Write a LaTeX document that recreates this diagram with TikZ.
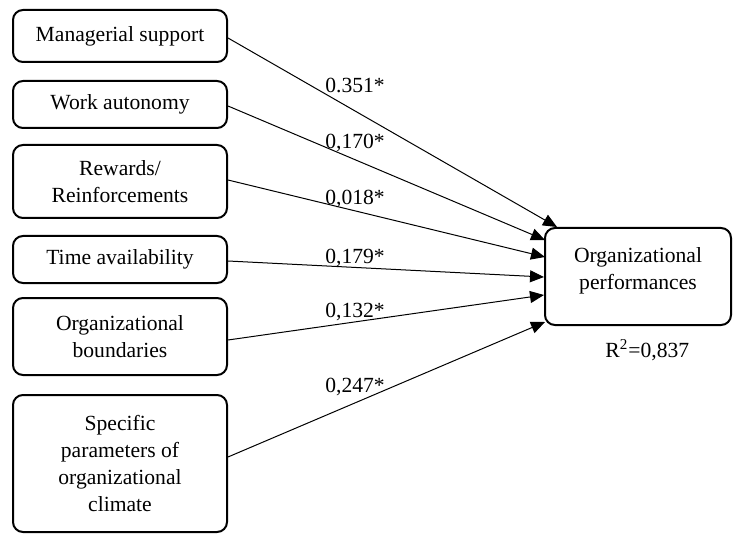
\documentclass[tikz,border=0pt]{standalone}
\usepackage{fontspec}
\setmainfont{Liberation Serif}
\usetikzlibrary{arrows.meta}
\begin{document}
\begin{tikzpicture}[x=0.5pt,y=-0.5pt,
  box/.style={draw,line width=1pt,rounded corners=5pt,align=center,inner sep=1pt,font=\fontsize{10.8}{13.5}\selectfont},
  conn/.style={line width=0.5pt,-{Triangle[length=7pt,width=6pt]}},
  coef/.style={font=\fontsize{10.8}{13}\selectfont,inner sep=0pt}]
\useasboundingbox (0,0) rectangle (733,534);
\node[box,minimum width=107pt,minimum height=26pt] (a) at (120,36) {Managerial support};
\node[box,minimum width=107pt,minimum height=23.5pt] (b) at (120,104.5) {Work autonomy};
\node[box,minimum width=107pt,minimum height=36.5pt] (c) at (120,181.5) {Rewards/\\Reinforcements};
\node[box,minimum width=107pt,minimum height=23.5pt] (d) at (120,259.5) {Time availability};
\node[box,minimum width=107pt,minimum height=38.5pt] (e) at (120,336.5) {Organizational\\boundaries};
\node[box,minimum width=107pt,minimum height=68.5pt] (f) at (120,463.5) {Specific\\parameters of\\organizational\\climate};
\node[box,minimum width=93pt,minimum height=48.5pt] (t) at (638,276.5) {Organizational\\performances\\[-5.5pt]\mbox{}};
\coordinate (t1) at (557,227);
\coordinate (t2) at (545,240);
\coordinate (t3) at (545,257);
\coordinate (t4) at (544,277);
\coordinate (t5) at (544,295);
\coordinate (t6) at (545,322);
\draw[conn] (a.east |- 0,38) -- (t1);
\draw[conn] (b.east |- 0,106) -- (t2);
\draw[conn] (c.east |- 0,180) -- (t3);
\draw[conn] (d.east |- 0,261) -- (t4);
\draw[conn] (e.east |- 0,340) -- (t5);
\draw[conn] (f.east |- 0,457) -- (t6);
\node[coef] (l1) at (355,85) {0.351*};
\node[coef] (l2) at (355,143) {0,170*};
\node[coef] (l3) at (355,199) {0,018*};
\node[coef] (l4) at (355,258) {0,179*};
\node[coef] (l5) at (355,312) {0,132*};
\node[coef] (l6) at (355,387) {0,247*};
\node[coef,anchor=west] (r2) at (605,350) {R\textsuperscript{2}=0,837};
\end{tikzpicture}
\end{document}
